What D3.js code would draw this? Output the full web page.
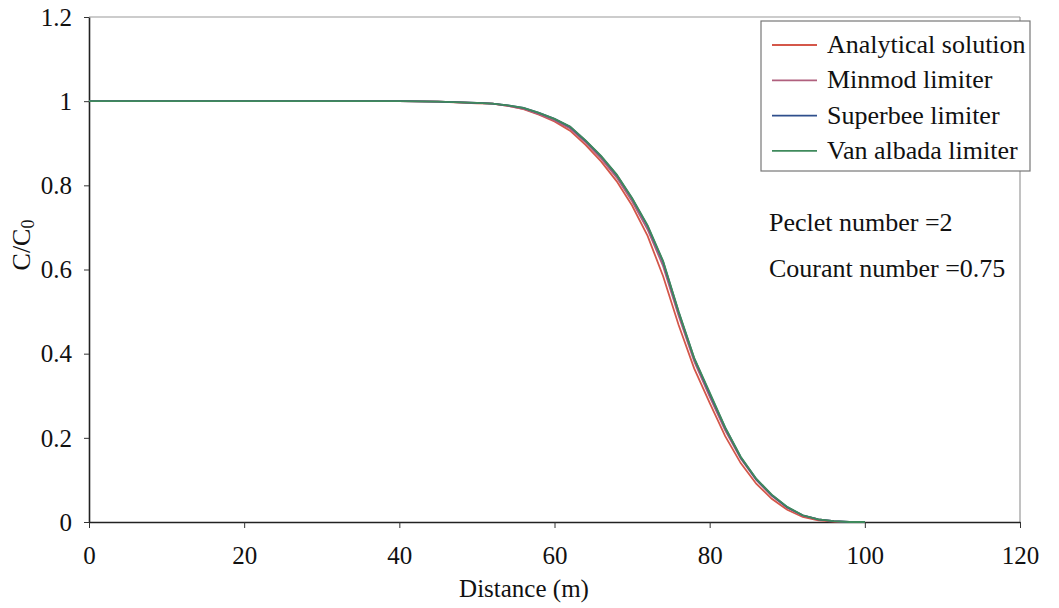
<!DOCTYPE html>
<html>
<head>
<meta charset="utf-8">
<script src="https://cdn.jsdelivr.net/npm/d3@7"></script>
<style>
  html, body { margin: 0; padding: 0; background: #fff; }
</style>
</head>
<body>
<svg id="chart" width="1059" height="608"></svg>
<script>
// ---- data ----
const distance = [0, 10, 20, 30, 40, 45, 50, 52, 54, 56, 58, 60, 62, 64, 66, 68, 70, 72, 74, 76, 78, 80, 82, 84, 86, 88, 90, 92, 94, 96, 98, 100];
const analytical = [1, 1, 1, 1, 1, 0.999, 0.995, 0.994, 0.989, 0.981, 0.968, 0.952, 0.93, 0.896, 0.857, 0.81, 0.752, 0.68, 0.584, 0.468, 0.365, 0.283, 0.204, 0.14, 0.091, 0.055, 0.029, 0.012, 0.004, 0.001, 0, 0];
const minmod     = [1, 1, 1, 1, 1, 0.999, 0.996, 0.994, 0.989, 0.982, 0.969, 0.954, 0.935, 0.902, 0.864, 0.819, 0.762, 0.695, 0.608, 0.49, 0.382, 0.298, 0.218, 0.151, 0.1, 0.062, 0.034, 0.015, 0.006, 0.002, 0, 0];
const superbee   = [1, 1, 1, 1, 1, 0.999, 0.996, 0.994, 0.99, 0.984, 0.972, 0.958, 0.939, 0.906, 0.869, 0.825, 0.769, 0.703, 0.618, 0.499, 0.389, 0.305, 0.224, 0.154, 0.102, 0.064, 0.035, 0.016, 0.006, 0.002, 0, 0];
const vanAlbada  = [1, 1, 1, 1, 1, 0.999, 0.996, 0.994, 0.99, 0.984, 0.972, 0.958, 0.94, 0.907, 0.87, 0.826, 0.77, 0.705, 0.62, 0.5, 0.39, 0.308, 0.225, 0.155, 0.103, 0.065, 0.036, 0.016, 0.006, 0.002, 0, 0];
const seriesNames = ["Analytical solution", "Minmod limiter", "Superbee limiter", "Van albada limiter"];
const seriesColors = ["#d4574a", "#b0607e", "#2f4f8c", "#3f8a5c"];
const xTicks = [0, 20, 40, 60, 80, 100, 120];
const yTicks = [0, 0.2, 0.4, 0.6, 0.8, 1, 1.2];
const annotations = ["Peclet number =2", "Courant number =0.75"];

// ---- layout ----
const FONT = "'Liberation Serif', 'Times New Roman', Times, 'DejaVu Serif', serif";
const svg = d3.select("#chart");
const pLeft = 89, pRight = 1020, pTop = 17, pBottom = 522;
const x = d3.scaleLinear().domain([0, 120]).range([pLeft, pRight]);
const y = d3.scaleLinear().domain([0, 1.2]).range([pBottom, pTop]);

// frame (top/right light)
svg.append("line").attr("x1", pLeft).attr("x2", pRight).attr("y1", pTop).attr("y2", pTop)
  .attr("stroke", "#999").attr("stroke-width", 1.2);
svg.append("line").attr("x1", pRight).attr("x2", pRight).attr("y1", pTop).attr("y2", pBottom)
  .attr("stroke", "#999").attr("stroke-width", 1.2);

// axes
const xAxis = svg.append("g").attr("transform", `translate(0,${pBottom})`)
  .call(d3.axisBottom(x).tickValues(xTicks).tickFormat(d3.format("d")).tickSize(6).tickSizeOuter(0));
const yAxis = svg.append("g").attr("transform", `translate(${pLeft},0)`)
  .call(d3.axisLeft(y).tickValues(yTicks).tickFormat(d => d === 0 ? "0" : d === 1 ? "1" : d3.format(".1f")(d)).tickSize(5).tickSizeOuter(0));
[xAxis, yAxis].forEach(g => {
  g.attr("font-family", null);
  g.select(".domain").attr("stroke", "#222").attr("stroke-width", 1.6);
  g.selectAll(".tick line").attr("stroke", "#333").attr("stroke-width", 1);
  g.selectAll("text").style("font-family", FONT).style("font-size", "25px").attr("fill", "#111");
});
xAxis.selectAll("text").attr("y", 0).attr("dy", 0).attr("transform", "translate(0,42)");
yAxis.selectAll("text").attr("x", -17).attr("dy", "0.33em");

// lines
const all = [analytical, minmod, superbee, vanAlbada];
const line = d3.line().x(d => x(d[0])).y(d => y(d[1]));
all.forEach((vals, i) => {
  svg.append("path")
    .datum(distance.map((d, j) => [d, vals[j]]))
    .attr("fill", "none")
    .attr("stroke", seriesColors[i])
    .attr("stroke-width", 1.8)
    .attr("d", line);
});

// legend
const lg = svg.append("g");
lg.append("rect").attr("x", 761).attr("y", 21).attr("width", 269).attr("height", 150)
  .attr("fill", "#fff").attr("stroke", "#777").attr("stroke-width", 1.2);
seriesNames.forEach((name, i) => {
  const yy = 45 + i * 35.3;
  lg.append("line").attr("x1", 772).attr("x2", 817).attr("y1", yy).attr("y2", yy)
    .attr("stroke", seriesColors[i]).attr("stroke-width", 1.8);
  lg.append("text").attr("x", 827).attr("y", yy + 8)
    .style("font-family", FONT).style("font-size", "26px").attr("fill", "#111").text(name);
});

// annotations
annotations.forEach((t, i) => {
  svg.append("text").attr("x", 769).attr("y", 231 + i * 46)
    .style("font-family", FONT).style("font-size", "26px").attr("fill", "#111").text(t);
});

// axis titles
svg.append("text").attr("x", 524).attr("y", 597).attr("text-anchor", "middle")
  .style("font-family", FONT).style("font-size", "25px").attr("fill", "#111").text("Distance (m)");
const yt = svg.append("text").attr("transform", "translate(30,245) rotate(-90)")
  .attr("text-anchor", "middle").style("font-family", FONT).style("font-size", "26px").attr("fill", "#111");
yt.append("tspan").text("C/C");
yt.append("tspan").style("font-size", "18px").attr("dy", 4).text("0");
</script>
</body>
</html>
